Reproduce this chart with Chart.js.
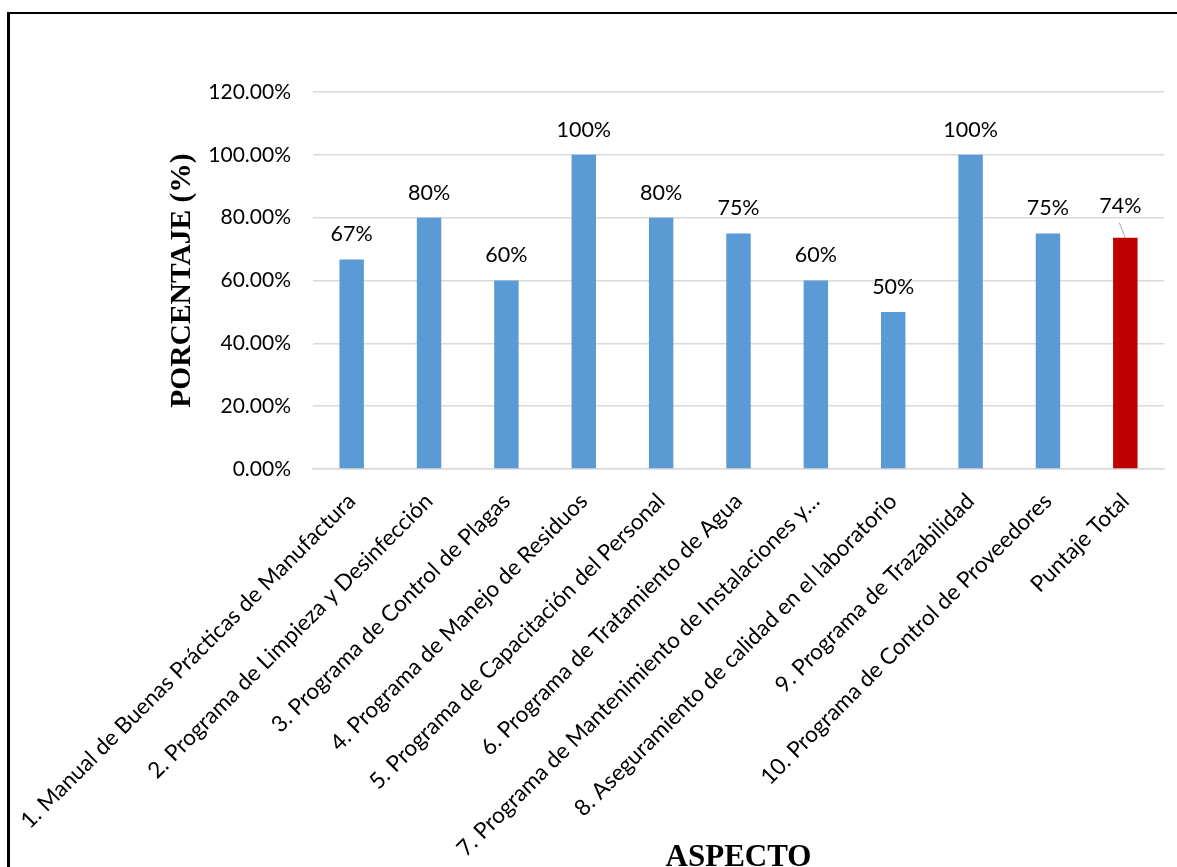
<!DOCTYPE html>
<html>
<head>
<meta charset="utf-8">
<script src="https://cdn.jsdelivr.net/npm/chart.js@4/dist/chart.umd.min.js"></script>
<style>
  html, body { margin: 0; padding: 0; background: #fff; overflow: hidden; }
  #wrap { position: relative; width: 1177px; height: 867px; overflow: hidden; }
  #c { position: absolute; left: 0; top: 0; }
  #frame {
    position: absolute; left: 7px; top: 12px; width: 1300px; height: 1000px;
    border-left: 3px solid #000; border-top: 2px solid #000;
    box-sizing: border-box; pointer-events: none;
  }
</style>
</head>
<body>
<div id="wrap">
  <canvas id="c" width="1177" height="867"></canvas>
  <div id="frame"></div>
</div>
<script>
// Aspects evaluated and their compliance percentage
const categories = [
  '1. Manual de Buenas Prácticas de Manufactura',
  '2. Programa de Limpieza y Desinfección',
  '3. Programa de Control de Plagas',
  '4. Programa de Manejo de Residuos',
  '5. Programa de Capacitación del Personal',
  '6. Programa de Tratamiento de Agua',
  '7. Programa de Mantenimiento de Instalaciones y…',
  '8. Aseguramiento de calidad en el laboratorio',
  '9. Programa de Trazabilidad',
  '10. Programa de Control de Proveedores',
  'Puntaje Total'
];
const percentages = [66.67, 80, 60, 100, 80, 75, 60, 50, 100, 75, 73.6];

const yTickValues = [0, 20, 40, 60, 80, 100, 120];
const yTickLabels = ['0.00%', '20.00%', '40.00%', '60.00%', '80.00%', '100.00%', '120.00%'];

const BLUE = '#5B9BD5';
const RED = '#C00000';
const GRID = '#d9d9d9';
const TEXT_FONT = 'Lato';

// Percent labels above every bar; the total gets a small leader line
const barValueLabels = {
  id: 'barValueLabels',
  afterDatasetsDraw(chart, args, opts) {
    const ctx = chart.ctx;
    const meta = chart.getDatasetMeta(0);
    const values = chart.data.datasets[0].data;
    ctx.save();
    ctx.font = opts.font;
    ctx.fillStyle = opts.color;
    ctx.textAlign = 'center';
    ctx.textBaseline = 'middle';
    meta.data.forEach((bar, i) => {
      const text = Math.round(values[i]) + '%';
      let x = bar.x;
      let y = bar.y - opts.offset;
      const shift = opts.callouts[i];
      if (shift) {
        x += shift.dx;
        y += shift.dy;
        ctx.beginPath();
        ctx.strokeStyle = opts.leaderColor;
        ctx.lineWidth = 1;
        ctx.moveTo(x - 1, y + 17);
        ctx.lineTo(bar.x, bar.y);
        ctx.stroke();
      }
      ctx.fillText(text, x, y);
    });
    ctx.restore();
  }
};

new Chart(document.getElementById('c'), {
  type: 'bar',
  data: {
    labels: categories,
    datasets: [{
      data: percentages,
      backgroundColor: (c) => c.dataIndex === categories.length - 1 ? RED : BLUE,
      borderWidth: 0,
      barPercentage: 0.316,
      categoryPercentage: 1
    }]
  },
  options: {
    responsive: false,
    devicePixelRatio: 1,
    animation: false,
    layout: { padding: { top: 92, right: 13, bottom: 0, left: 0 } },
    plugins: {
      legend: { display: false },
      tooltip: { enabled: false },
      barValueLabels: {
        font: '21.5px ' + TEXT_FONT,
        color: '#000',
        offset: 25,
        leaderColor: '#a6a6a6',
        callouts: { 10: { dx: -5, dy: -7 } }
      }
    },
    scales: {
      x: {
        grid: { display: false, drawTicks: false },
        border: { display: true, color: GRID, width: 1.5 },
        ticks: {
          autoSkip: false,
          minRotation: 45,
          maxRotation: 45,
          padding: 19,
          color: '#000',
          font: { family: TEXT_FONT, size: 22.5 }
        },
        title: {
          display: true,
          text: 'ASPECTO',
          color: '#000',
          font: { family: 'Liberation Serif', size: 31, weight: 'bold', lineHeight: 1 },
          padding: { top: 0, bottom: -6 }
        },
        afterFit(scale) {
          // long rotated labels may run into the left margin; keep the plot fixed
          scale.height = 398;
          scale.paddingLeft = 0;
          scale.paddingRight = 0;
        }
      },
      y: {
        min: 0,
        max: 120,
        afterBuildTicks(scale) { scale.ticks = yTickValues.map(v => ({ value: v })); },
        ticks: {
          padding: 22,
          color: '#000',
          font: { family: TEXT_FONT, size: 21 },
          callback: (v) => yTickLabels[yTickValues.indexOf(v)]
        },
        grid: { color: GRID, lineWidth: 1.5, drawTicks: false },
        border: { display: false },
        title: {
          display: true,
          text: 'PORCENTAJE (%)',
          color: '#000',
          font: { family: 'Liberation Serif', size: 29.5, weight: 'bold', lineHeight: 1.2 },
          padding: { top: 165, bottom: 0 }
        },
        afterFit(scale) { scale.width = 313; }
      }
    }
  },
  plugins: [barValueLabels]
});
</script>
</body>
</html>
